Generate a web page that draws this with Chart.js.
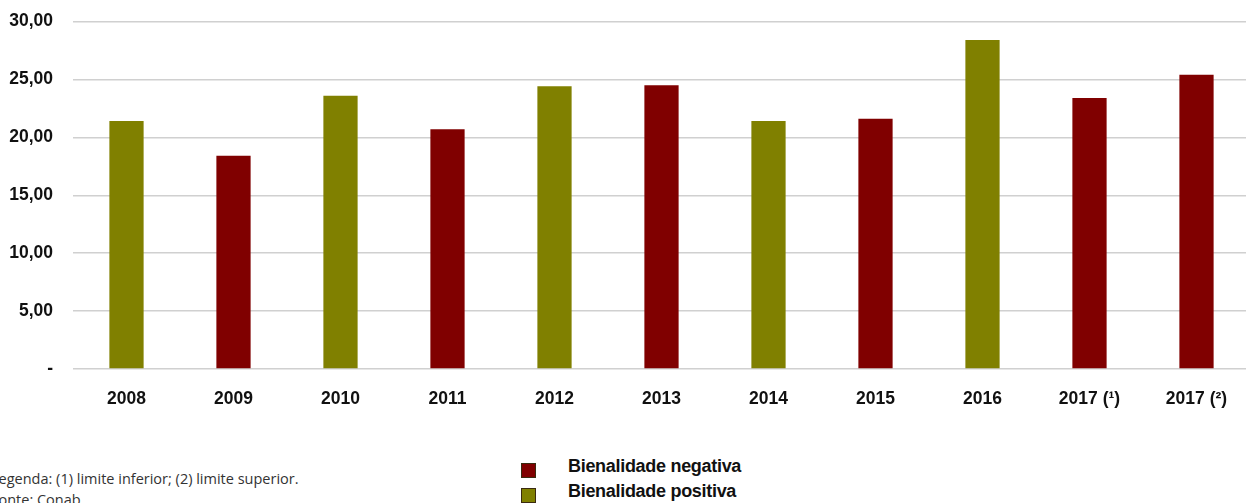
<!DOCTYPE html>
<html>
<head>
<meta charset="utf-8">
<script src="https://cdn.jsdelivr.net/npm/chart.js@4"></script>
<style>
  html, body { margin: 0; padding: 0; background: #fff; overflow: hidden; }
  body { width: 1246px; height: 503px; position: relative; }
  #wrap { position: absolute; left: 0; top: -9px; width: 1250px; height: 429px; }
  .legend { position: absolute; left: 521px; top: 455px; font: bold 18px "Liberation Sans", Arial, sans-serif; color: #111; letter-spacing: -0.3px; }
  .legend div { position: relative; height: 25px; line-height: 22px; padding-left: 47px; }
  .legend i { position: absolute; left: 0; top: 8px; width: 15px; height: 15px; box-sizing: border-box; border: 1px solid #3a2a10; }
  .note { position: absolute; left: -9px; top: 468px; font: 14.5px "Open Sans", "Lato", sans-serif; color: #333; line-height: 21px; }
</style>
</head>
<body>
<div id="wrap"><canvas id="c"></canvas></div>
<div class="legend">
  <div><i style="background:#800000"></i>Bienalidade negativa</div>
  <div><i style="background:#808000"></i>Bienalidade positiva</div>
</div>
<div class="note">Legenda: (1) limite inferior; (2) limite superior.<br>Fonte: Conab.</div>
<script>
const years = ["2008", "2009", "2010", "2011", "2012", "2013", "2014", "2015", "2016", "2017 (¹)", "2017 (²)"];
const values = [21.4, 18.4, 23.6, 20.7, 24.4, 24.5, 21.4, 21.6, 28.4, 23.4, 25.4];
// "pos" = bienalidade positiva, "neg" = bienalidade negativa
const trend = ["pos", "neg", "pos", "neg", "pos", "neg", "pos", "neg", "pos", "neg", "neg"];
const yTicks = [0, 5, 10, 15, 20, 25, 30];

const colors = { neg: "#800000", pos: "#808000" };
const tickFont = { family: "'Liberation Sans', Arial, sans-serif", size: 17.5, weight: "bold" };

new Chart(document.getElementById("c"), {
  type: "bar",
  data: {
    labels: years,
    datasets: [{
      data: values,
      backgroundColor: trend.map((t) => colors[t]),
      categoryPercentage: 1,
      barPercentage: 0.32,
    }],
  },
  options: {
    responsive: true,
    maintainAspectRatio: false,
    animation: false,
    layout: { padding: { top: 12, left: 0, right: 0, bottom: 0 } },
    plugins: { legend: { display: false }, tooltip: { enabled: false } },
    scales: {
      x: {
        grid: { display: false },
        border: { display: false },
        ticks: { color: "#111", font: tickFont, padding: 12, maxRotation: 0 },
        afterFit: (s) => { s.height = 51; },
      },
      y: {
        min: 0,
        max: 30,
        afterBuildTicks: (s) => { s.ticks = yTicks.map((v) => ({ value: v })); },
        grid: { color: "#d0d0d0", lineWidth: 1.5, drawTicks: false },
        border: { display: false },
        ticks: {
          color: "#111",
          font: tickFont,
          padding: 20,
          callback: (v) => (v === 0 ? "-" : v.toFixed(2).replace(".", ",")),
        },
        afterFit: (s) => { s.width = 73; },
      },
    },
  },
});
</script>
</body>
</html>
